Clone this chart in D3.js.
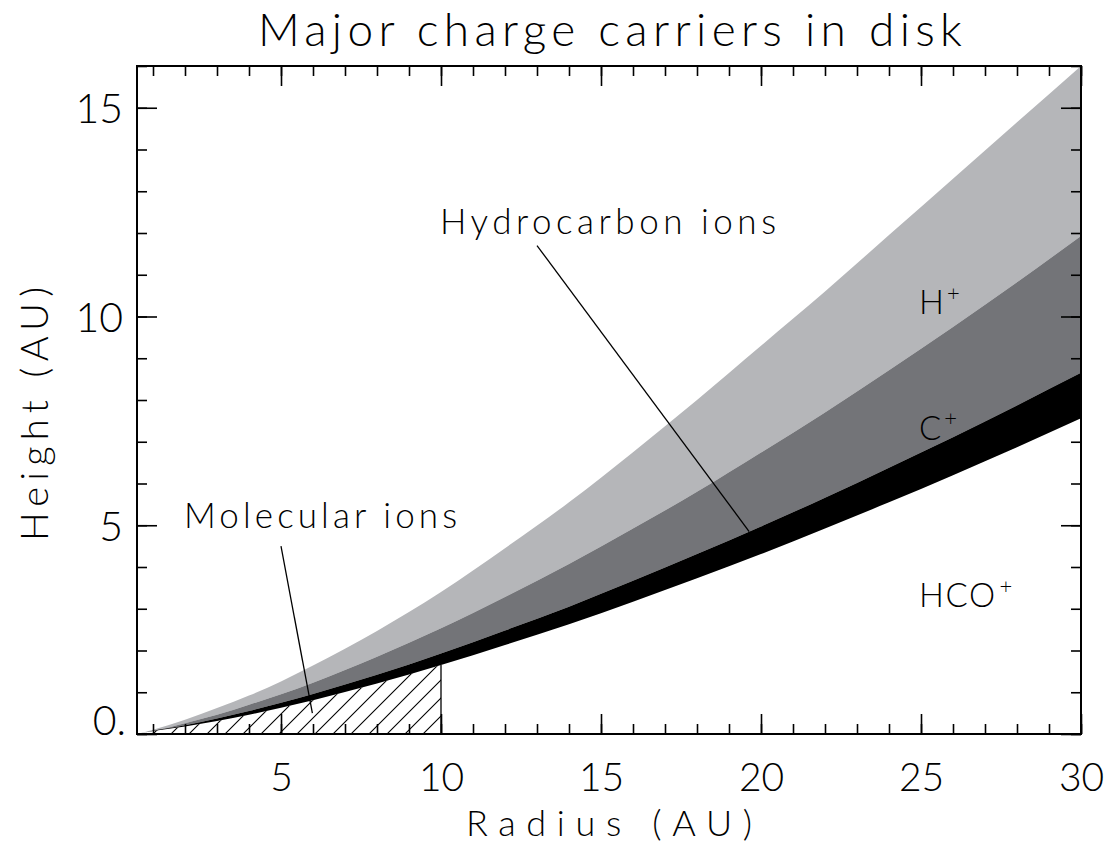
<!DOCTYPE html>
<html>
<head>
<meta charset="utf-8">
<script src="https://cdn.jsdelivr.net/npm/d3@7"></script>
<style>
  body { margin: 0; background: #fff; }
  svg text { font-family: "Lato", "Open Sans", "DejaVu Sans", sans-serif; font-weight: 300; fill: #000; }
</style>
</head>
<body>
<div id="chart"></div>
<script>
// radius samples (AU) and boundary heights (AU)
var radius      = [0.5, 1, 2, 3, 4, 5, 6, 8, 10, 12, 14, 16, 18, 20, 22, 24, 26, 28, 30];
var hPlusTop    = [0, 0.1, 0.34, 0.62, 0.92, 1.26, 1.64, 2.47, 3.4, 4.45, 5.55, 6.75, 8.0, 9.3, 10.6, 11.95, 13.3, 14.65, 16.0];
var cPlusTop    = [0, 0.07, 0.26, 0.46, 0.70, 0.95, 1.23, 1.85, 2.53, 3.28, 4.07, 4.92, 5.8, 6.74, 7.7, 8.71, 9.75, 10.82, 11.93];
var hydroTop    = [0, 0.08, 0.21, 0.37, 0.55, 0.75, 0.96, 1.42, 1.93, 2.48, 3.05, 3.67, 4.31, 4.97, 5.66, 6.38, 7.11, 7.87, 8.65];
var hydroBottom = [0, 0.07, 0.18, 0.31, 0.46, 0.63, 0.81, 1.21, 1.65, 2.13, 2.63, 3.17, 3.73, 4.31, 4.92, 5.55, 6.2, 6.87, 7.56];
var molecularMaxR = 10;                       // hatched region ends here

var xMajor = [5, 10, 15, 20, 25, 30];
var xMinor = d3.range(1, 31);
var yMajor = [0, 5, 10, 15];
var yMinor = d3.range(0, 17);
var yLabels = ["0.", "5", "10", "15"];

// text annotations (data coordinates)
var regionLabels = [
    {name: "H", sup: "+", r: 25.0, h: 10.05, len: 24},
    {name: "C", sup: "+", r: 25.0, h: 7.05, len: 22},
    {name: "HCO", sup: "+", r: 25.0, h: 3.04, len: 76}
];
var pointers = [
    {text: "Hydrocarbon ions", tx: 10.0, th: 12.0, len: 336, x1: 13.0, y1: 11.7, x2: 19.63, y2: 4.85},
    {text: "Molecular ions",   tx: 2.0,  th: 4.95, len: 273, x1: 5.0,  y1: 4.5,  x2: 5.98,  y2: 0.5}
];

// Layout
var width = 1114, height = 852;
var margin = {left: 137, top: 66, right: 33, bottom: 118};
var plotW = width - margin.left - margin.right;
var plotH = height - margin.top - margin.bottom;
var majorLen = 20, minorLen = 10;

var svg = d3.select("#chart").append("svg")
    .attr("width", width)
    .attr("height", height);

var x = d3.scaleLinear().domain([0.5, 30]).range([0, plotW]);
var y = d3.scaleLinear().domain([0, 16]).range([plotH, 0]);

var g = svg.append("g").attr("transform", "translate(" + margin.left + "," + margin.top + ")");

var defs = svg.append("defs");
defs.append("clipPath").attr("id", "plotClip")
    .append("rect").attr("width", plotW).attr("height", plotH);

var hatch = defs.append("pattern")
    .attr("id", "hatch")
    .attr("patternUnits", "userSpaceOnUse")
    .attr("width", 18).attr("height", 18);
hatch.append("path")
    .attr("d", "M0,18 L18,0 M-4.5,4.5 L4.5,-4.5 M13.5,22.5 L22.5,13.5")
    .attr("stroke", "#000")
    .attr("stroke-width", 1.1);

var pts = radius.map(function(r, i) {
    return {r: r, a: hPlusTop[i], b: cPlusTop[i], c: hydroTop[i], d: hydroBottom[i]};
});

function band(top, bottom) {
    return d3.area()
        .curve(d3.curveMonotoneX)
        .x(function(d) { return x(d.r); })
        .y0(function(d) { return y(d[bottom]); })
        .y1(function(d) { return y(d[top]); });
}

var layers = g.append("g").attr("clip-path", "url(#plotClip)");
layers.append("path").attr("d", band("a", "b")(pts)).attr("fill", "#b5b6b9");
layers.append("path").attr("d", band("b", "c")(pts)).attr("fill", "#737478");
layers.append("path").attr("d", band("c", "d")(pts)).attr("fill", "#000");

// molecular ions: hatched region below the hydrocarbon band, inside r <= 10
var molPts = pts.filter(function(d) { return d.r <= molecularMaxR; });
var molArea = d3.area()
    .curve(d3.curveMonotoneX)
    .x(function(d) { return x(d.r); })
    .y0(y(0))
    .y1(function(d) { return y(d.d); });
layers.append("path").attr("d", molArea(molPts)).attr("fill", "url(#hatch)");
layers.append("line")
    .attr("x1", x(molecularMaxR)).attr("x2", x(molecularMaxR))
    .attr("y1", y(0)).attr("y2", y(molPts[molPts.length - 1].d))
    .attr("stroke", "#000").attr("stroke-width", 1.3);

// Axes: ticks point inward on all four sides
function styleAxis(sel) {
    sel.select(".domain").remove();
    sel.selectAll(".tick line").attr("stroke", "#000").attr("stroke-width", 1.6);
}
function noLabel() { return ""; }

g.append("g").attr("transform", "translate(0," + plotH + ")")
    .call(d3.axisBottom(x).tickValues(xMinor).tickSize(-minorLen).tickFormat(noLabel)).call(styleAxis);
var xb = g.append("g").attr("transform", "translate(0," + plotH + ")")
    .call(d3.axisBottom(x).tickValues(xMajor).tickSize(-majorLen).tickPadding(0).tickFormat(d3.format("d")))
    .call(styleAxis);
xb.selectAll(".tick text").attr("y", 57).attr("dy", 0).style("font-size", "39px");

g.append("g")
    .call(d3.axisTop(x).tickValues(xMinor).tickSize(-minorLen).tickFormat(noLabel)).call(styleAxis);
g.append("g")
    .call(d3.axisTop(x).tickValues(xMajor).tickSize(-majorLen).tickFormat(noLabel)).call(styleAxis);

g.append("g")
    .call(d3.axisLeft(y).tickValues(yMinor).tickSize(-minorLen).tickFormat(noLabel)).call(styleAxis);
var yl = g.append("g")
    .call(d3.axisLeft(y).tickValues(yMajor).tickSize(-majorLen).tickPadding(14)
        .tickFormat(function(d, i) { return yLabels[i]; }))
    .call(styleAxis);
yl.selectAll(".tick text").style("font-size", "41px").attr("dy", "0.36em");
yl.selectAll(".tick text").filter(function(d) { return d === 0; }).attr("dy", "0em").attr("x", -11);

g.append("g").attr("transform", "translate(" + plotW + ",0)")
    .call(d3.axisRight(y).tickValues(yMinor).tickSize(-minorLen).tickFormat(noLabel)).call(styleAxis);
g.append("g").attr("transform", "translate(" + plotW + ",0)")
    .call(d3.axisRight(y).tickValues(yMajor).tickSize(-majorLen).tickFormat(noLabel)).call(styleAxis);

// frame
g.append("rect")
    .attr("width", plotW).attr("height", plotH)
    .attr("fill", "none").attr("stroke", "#000").attr("stroke-width", 2);

// region labels
regionLabels.forEach(function(d) {
    var t = g.append("text")
        .attr("x", x(d.r) - 2).attr("y", y(d.h))
        .style("font-size", "33px");
    t.append("tspan").text(d.name).attr("textLength", d.len).attr("lengthAdjust", "spacing");
    t.append("tspan").text(d.sup).attr("dy", "-0.6em").attr("dx", "3").style("font-size", "22px");
});

// pointer annotations
pointers.forEach(function(d) {
    g.append("text")
        .attr("x", x(d.tx) - 1).attr("y", y(d.th) + 1)
        .attr("textLength", d.len).attr("lengthAdjust", "spacing")
        .style("font-size", "35px")
        .text(d.text);
    g.append("line")
        .attr("x1", x(d.x1)).attr("y1", y(d.y1))
        .attr("x2", x(d.x2)).attr("y2", y(d.y2))
        .attr("stroke", "#000").attr("stroke-width", 1.3);
});

// titles
svg.append("text")
    .attr("x", 258).attr("y", 46)
    .attr("textLength", 704).attr("lengthAdjust", "spacing")
    .style("font-size", "46px")
    .text("Major charge carriers in disk");
svg.append("text")
    .attr("x", 466).attr("y", 836)
    .attr("textLength", 286).attr("lengthAdjust", "spacing")
    .style("font-size", "36px")
    .text("Radius (AU)");
svg.append("text")
    .attr("transform", "translate(48,541) rotate(-90)")
    .attr("textLength", 254).attr("lengthAdjust", "spacing")
    .style("font-size", "38px")
    .text("Height (AU)");
</script>
</body>
</html>
